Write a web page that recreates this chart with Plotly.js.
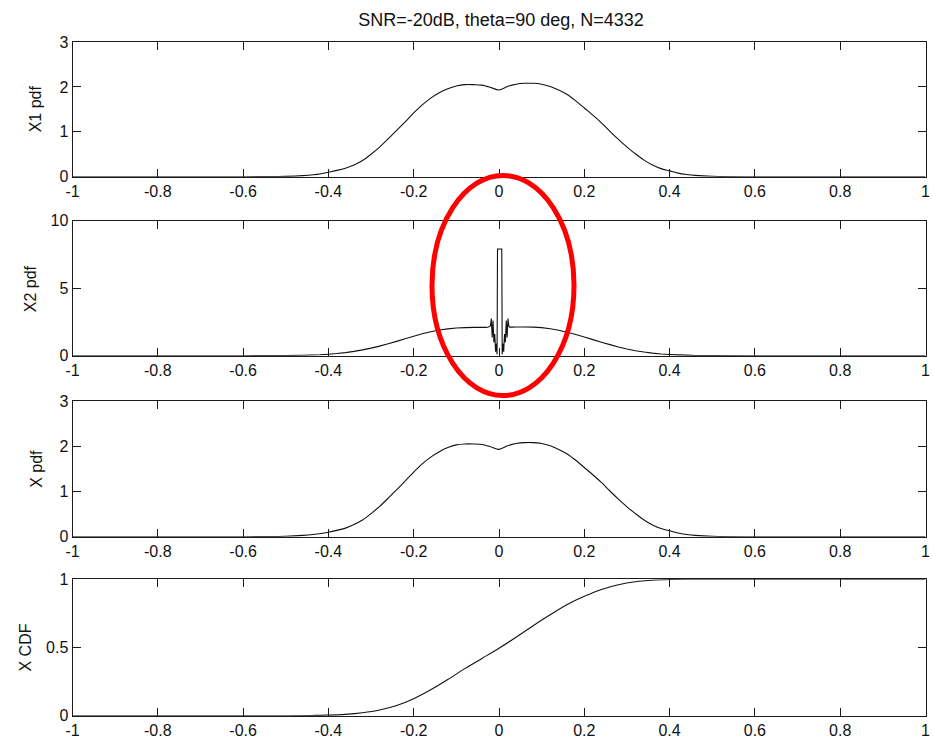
<!DOCTYPE html>
<html>
<head>
<meta charset="utf-8">
<script src="https://cdn.plot.ly/plotly-3.0.1.min.js"></script>
<style>
  html, body { margin: 0; padding: 0; background: #fff; }
  #chart { width: 933px; height: 747px; }
</style>
</head>
<body>
<div id="chart"></div>
<script>
// ---------------- data ----------------
const chartTitle = 'SNR=-20dB, theta=90 deg, N=4332';
const panelLabels = ['X1 pdf', 'X2 pdf', 'X pdf', 'X CDF'];

const xTickVals = [-1, -0.8, -0.6, -0.4, -0.2, 0, 0.2, 0.4, 0.6, 0.8, 1];
const xTickText = ['-1', '-0.8', '-0.6', '-0.4', '-0.2', '0', '0.2', '0.4', '0.6', '0.8', '1'];

const y1TickVals = [0, 1, 2, 3];
const y2TickVals = [0, 5, 10];
const y3TickVals = [0, 1, 2, 3];
const y4TickVals = [0, 0.5, 1];
const y4TickText = ['0', '0.5', '1'];

// X1 pdf
const x1Grid = [-1, -0.6, -0.5, -0.46, -0.42, -0.40, -0.38, -0.36, -0.34, -0.32, -0.30, -0.28, -0.26, -0.24,
  -0.22, -0.20, -0.18, -0.16, -0.14, -0.12, -0.10, -0.08, -0.06, -0.04, -0.02, 0, 0.02, 0.04, 0.06, 0.08,
  0.10, 0.12, 0.14, 0.16, 0.18, 0.20, 0.22, 0.24, 0.26, 0.28, 0.30, 0.32, 0.34, 0.36, 0.38, 0.40, 0.42,
  0.44, 0.46, 0.50, 0.6, 1];
const x1Pdf = [0, 0.0, 0.008, 0.025, 0.06, 0.10, 0.14, 0.19, 0.26, 0.36, 0.50, 0.66, 0.84, 1.03,
  1.22, 1.42, 1.60, 1.75, 1.87, 1.96, 2.02, 2.05, 2.05, 2.04, 1.99, 1.93, 2.01, 2.06, 2.08, 2.08,
  2.06, 2.01, 1.93, 1.83, 1.69, 1.53, 1.37, 1.20, 1.01, 0.83, 0.66, 0.51, 0.37, 0.26, 0.18, 0.13, 0.08,
  0.05, 0.03, 0.01, 0.0, 0];

// X2 pdf (broad hump with a narrow spike at the centre)
const x2Grid = [-1, -0.6, -0.5, -0.46, -0.42, -0.40, -0.38, -0.36, -0.34, -0.32, -0.30, -0.28, -0.26, -0.24,
  -0.22, -0.20, -0.18, -0.16, -0.14, -0.12, -0.10, -0.08, -0.06, -0.04, -0.03,
  -0.025, -0.020, -0.018, -0.016, -0.014, -0.012, -0.010, -0.008, -0.006, -0.0045, -0.0035,
  0.0065, 0.0075, 0.009, 0.011, 0.013, 0.015, 0.017, 0.019, 0.021, 0.023, 0.025,
  0.03, 0.04, 0.06, 0.08, 0.10, 0.12, 0.14, 0.16, 0.18, 0.20, 0.22, 0.24, 0.26, 0.28, 0.30, 0.32, 0.34,
  0.36, 0.38, 0.40, 0.42, 0.44, 0.46, 0.50, 0.6, 1];
const x2Pdf = [0, 0, 0.01, 0.03, 0.07, 0.11, 0.16, 0.23, 0.32, 0.43, 0.56, 0.71, 0.88, 1.06,
  1.25, 1.44, 1.62, 1.77, 1.90, 1.99, 2.05, 2.08, 2.10, 2.10, 2.10,
  2.12, 2.20, 2.75, 1.35, 2.60, 1.00, 1.60, 0.30, 0.90, 0.10, 7.90,
  7.90, 0.10, 0.90, 0.30, 1.60, 1.00, 2.60, 1.35, 2.75, 2.20, 2.12,
  2.12, 2.13, 2.13, 2.12, 2.08, 2.00, 1.89, 1.74, 1.57, 1.38, 1.19, 1.00, 0.82, 0.65, 0.50, 0.37, 0.27,
  0.19, 0.13, 0.09, 0.06, 0.04, 0.02, 0.01, 0, 0];

// X pdf
const xGrid = [-1, -0.6, -0.5, -0.46, -0.42, -0.40, -0.38, -0.36, -0.34, -0.32, -0.30, -0.28, -0.26, -0.24,
  -0.22, -0.20, -0.18, -0.16, -0.14, -0.12, -0.10, -0.08, -0.06, -0.04, -0.02, 0, 0.02, 0.04, 0.06, 0.08,
  0.10, 0.12, 0.14, 0.16, 0.18, 0.20, 0.22, 0.24, 0.26, 0.28, 0.30, 0.32, 0.34, 0.36, 0.38, 0.40, 0.42,
  0.44, 0.46, 0.50, 0.6, 1];
const xPdf = [0, 0.0, 0.01, 0.03, 0.065, 0.10, 0.14, 0.19, 0.27, 0.37, 0.51, 0.67, 0.85, 1.04,
  1.23, 1.43, 1.61, 1.76, 1.88, 1.97, 2.03, 2.05, 2.05, 2.04, 1.99, 1.93, 2.01, 2.06, 2.08, 2.08,
  2.06, 2.01, 1.93, 1.83, 1.69, 1.53, 1.37, 1.20, 1.01, 0.83, 0.66, 0.51, 0.37, 0.26, 0.18, 0.13, 0.08,
  0.05, 0.03, 0.01, 0.0, 0];

// X CDF
const cdfGrid = [-1, -0.5, -0.44, -0.40, -0.36, -0.32, -0.28, -0.24, -0.20, -0.16, -0.12, -0.08, -0.04,
  0, 0.04, 0.08, 0.12, 0.16, 0.20, 0.24, 0.28, 0.32, 0.36, 0.40, 0.44, 0.5, 1];
const xCdf = [0, 0, 0.002, 0.004, 0.01, 0.022, 0.042, 0.075, 0.125, 0.19, 0.265, 0.345, 0.42,
  0.495, 0.575, 0.66, 0.74, 0.815, 0.875, 0.925, 0.96, 0.982, 0.993, 0.998, 1.0, 1.0, 1.0];

// ---------------- layout helpers ----------------
const W = 933, H = 747;
const px2x = p => p / W;
const px2y = p => 1 - p / H;
const xDomain = [px2x(72.5), px2x(925.5)];
const panelsPx = [[42, 176.7], [220.7, 355.7], [401, 536.7], [579.3, 715.7]];
const yDomains = panelsPx.map(([t, b]) => [px2y(b), px2y(t)]);

const axisColor = '#1a1a1a';
const fontFamily = 'Liberation Sans, Arial, Helvetica, sans-serif';

function xAxis(anchor) {
  return {
    domain: xDomain, anchor: anchor, range: [-1, 1],
    tickmode: 'array', tickvals: xTickVals, ticktext: xTickText,
    ticks: 'inside', ticklen: 8, tickwidth: 1, tickcolor: axisColor,
    showline: true, linecolor: axisColor, linewidth: 1, mirror: 'ticks',
    showgrid: false, zeroline: false, fixedrange: true,
    tickfont: { size: 16, color: '#111', family: fontFamily }
  };
}
function yAxis(anchor, domain, range, vals, text) {
  const a = {
    domain: domain, anchor: anchor, range: range,
    tickmode: 'array', tickvals: vals,
    ticks: 'inside', ticklen: 8, tickwidth: 1, tickcolor: axisColor,
    showline: true, linecolor: axisColor, linewidth: 1, mirror: 'ticks',
    showgrid: false, zeroline: false, fixedrange: true,
    tickfont: { size: 16, color: '#111', family: fontFamily }
  };
  if (text) a.ticktext = text;
  return a;
}

const smoothLine = { color: '#111', width: 1.1, shape: 'spline', smoothing: 0.8, simplify: false };
const sharpLine = { color: '#111', width: 1.1, simplify: false };
const traces = [
  { x: x1Grid, y: x1Pdf, xaxis: 'x', yaxis: 'y', mode: 'lines', line: smoothLine, hoverinfo: 'skip' },
  { x: x2Grid, y: x2Pdf, xaxis: 'x2', yaxis: 'y2', mode: 'lines', line: sharpLine, hoverinfo: 'skip' },
  { x: xGrid, y: xPdf, xaxis: 'x3', yaxis: 'y3', mode: 'lines', line: smoothLine, hoverinfo: 'skip' },
  { x: cdfGrid, y: xCdf, xaxis: 'x4', yaxis: 'y4', mode: 'lines', line: smoothLine, hoverinfo: 'skip' }
];

const labelX = [35, 30, 37, 25];
const annotations = panelLabels.map((t, i) => ({
  text: t, xref: 'paper', yref: 'paper',
  x: px2x(labelX[i]), y: (yDomains[i][0] + yDomains[i][1]) / 2,
  textangle: -90, showarrow: false, xanchor: 'center', yanchor: 'middle',
  font: { size: 16, color: '#111', family: fontFamily }
}));

const layout = {
  width: W, height: H,
  margin: { l: 0, r: 0, t: 0, b: 0 },
  paper_bgcolor: '#fff', plot_bgcolor: '#fff',
  showlegend: false,
  font: { family: fontFamily, size: 16, color: '#111' },
  title: {
    text: chartTitle, x: px2x(501), xanchor: 'center',
    y: 1 - 20 / H, yanchor: 'middle',
    font: { size: 18, color: '#111', family: fontFamily }
  },
  xaxis: xAxis('y'), xaxis2: xAxis('y2'), xaxis3: xAxis('y3'), xaxis4: xAxis('y4'),
  yaxis: yAxis('x', yDomains[0], [0, 3], y1TickVals),
  yaxis2: yAxis('x2', yDomains[1], [0, 10], y2TickVals),
  yaxis3: yAxis('x3', yDomains[2], [0, 3], y3TickVals),
  yaxis4: yAxis('x4', yDomains[3], [0, 1], y4TickVals, y4TickText),
  annotations: annotations,
  shapes: [{
    type: 'circle', xref: 'paper', yref: 'paper', layer: 'above',
    x0: px2x(432), x1: px2x(574), y0: px2y(395.5), y1: px2y(175.5),
    line: { color: '#ff0000', width: 5 }
  }]
};

Plotly.newPlot('chart', traces, layout, { staticPlot: true, displayModeBar: false });
</script>
</body>
</html>
